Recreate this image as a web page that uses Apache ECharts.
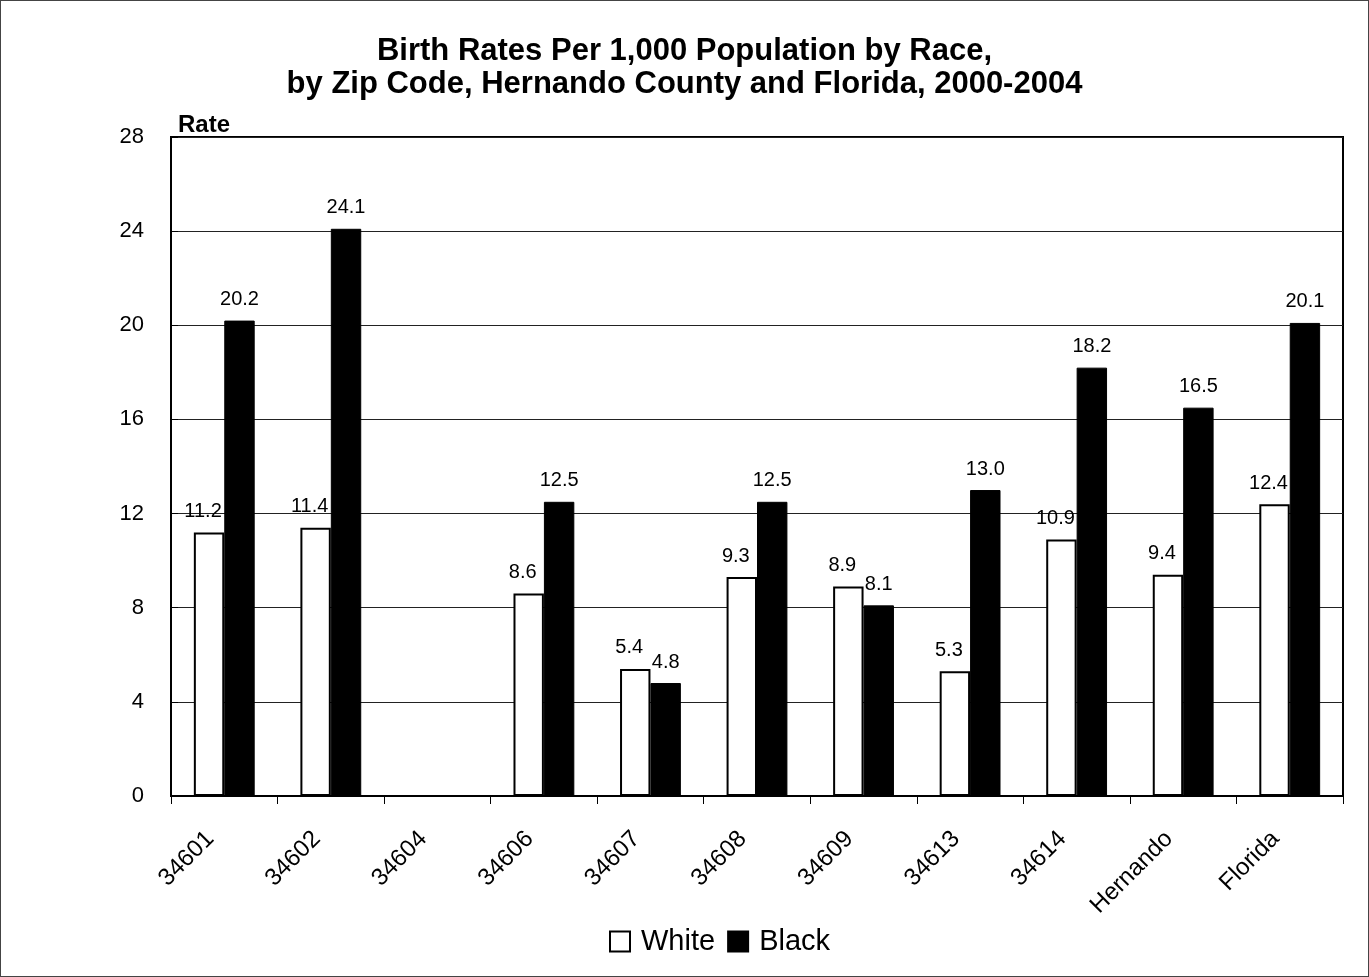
<!DOCTYPE html>
<html>
<head>
<meta charset="utf-8">
<script src="https://cdn.jsdelivr.net/npm/echarts@6/dist/echarts.min.js"></script>
<style>
  html, body { margin: 0; padding: 0; background: #fff; }
  #chart { width: 1369px; height: 977px; border: 1px solid #444; box-sizing: border-box; }
</style>
</head>
<body>
<div id="chart"></div>
<script>
// chart data
var zipCodes = ['34601', '34602', '34604', '34606', '34607', '34608', '34609', '34613', '34614', 'Hernando', 'Florida'];
var whiteRates = [11.2, 11.4, null, 8.6, 5.4, 9.3, 8.9, 5.3, 10.9, 9.4, 12.4];
var blackRates = [20.2, 24.1, null, 12.5, 4.8, 12.5, 8.1, 13.0, 18.2, 16.5, 20.1];
var yTicks = [0, 4, 8, 12, 16, 20, 24, 28];

var font = 'Arial, "Liberation Sans", sans-serif';

var chart = echarts.init(document.getElementById('chart'));

var barLabel = {
    show: true,
    position: 'top',
    distance: 11,
    color: '#000',
    fontFamily: font,
    fontSize: 20,
    formatter: function (p) { return p.value == null ? '' : p.value.toFixed(1); }
};

chart.setOption({
    animation: false,
    title: {
        text: 'Birth Rates Per 1,000 Population by Race,\nby Zip Code, Hernando County and Florida, 2000-2004',
        left: 'center',
        top: 29,
        textStyle: { fontFamily: font, fontSize: 31, fontWeight: 'bold', color: '#000', lineHeight: 33 }
    },
    graphic: [{
        type: 'text',
        left: 177,
        top: 112,
        style: { text: 'Rate', font: 'bold 24px ' + font, fill: '#000' }
    }],
    legend: {
        bottom: 15,
        left: 603,
        itemWidth: 20,
        itemHeight: 20,
        itemGap: 12,
        textStyle: { fontFamily: font, fontSize: 29, color: '#000', padding: [0, 0, 0, 6] },
        data: [
            { name: 'White', icon: 'rect', itemStyle: { color: '#fff', borderColor: '#000', borderWidth: 2 } },
            { name: 'Black', icon: 'rect', itemStyle: { color: '#000', borderColor: '#000', borderWidth: 2 } }
        ]
    },
    grid: {
        left: 170, right: 25, top: 136, bottom: 180,
        show: true, borderColor: '#000', borderWidth: 2, backgroundColor: '#fff'
    },
    xAxis: {
        type: 'category',
        data: zipCodes,
        axisLine: { show: true, lineStyle: { color: '#000', width: 2 } },
        axisTick: { show: true, length: 8, lineStyle: { color: '#000' } },
        axisLabel: { rotate: 45, margin: 25, padding: [0, 20, 0, 0], fontFamily: font, fontSize: 24, color: '#000', interval: 0 }
    },
    yAxis: {
        type: 'value',
        min: yTicks[0],
        max: yTicks[yTicks.length - 1],
        interval: 4,
        axisLine: { show: true, lineStyle: { color: '#000', width: 2 } },
        axisTick: { show: true, inside: true, length: 7, lineStyle: { color: '#000' } },
        axisLabel: { margin: 27, fontFamily: font, fontSize: 22, color: '#000' },
        splitLine: { show: true, lineStyle: { color: '#222', width: 1 } }
    },
    series: [
        {
            name: 'White',
            type: 'bar',
            data: whiteRates,
            barGap: '0%',
            barCategoryGap: '42.9%',
            itemStyle: { color: '#fff', borderColor: '#000', borderWidth: 2 },
            label: Object.assign({}, barLabel, { offset: [-6, 0] })
        },
        {
            name: 'Black',
            type: 'bar',
            data: blackRates,
            barGap: '0%',
            barCategoryGap: '42.9%',
            itemStyle: { color: '#000', borderColor: '#000', borderWidth: 1 },
            label: barLabel
        }
    ]
});
</script>
</body>
</html>
